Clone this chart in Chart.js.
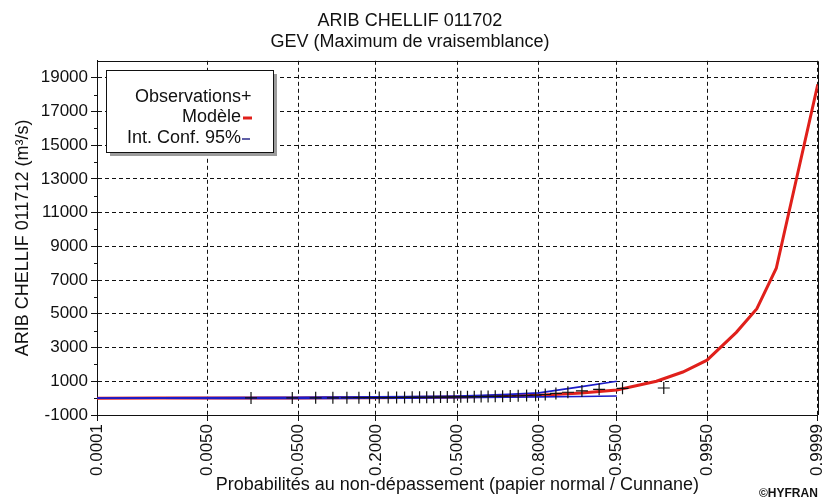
<!DOCTYPE html>
<html>
<head>
<meta charset="utf-8">
<title>ARIB CHELLIF 011702</title>
<script src="https://cdn.jsdelivr.net/npm/chart.js@4.4.0/dist/chart.umd.min.js"></script>
<style>
  html, body { margin: 0; padding: 0; background: #fff; }
  #wrap { width: 825px; height: 499px; position: relative; }
</style>
</head>
<body>
<div id="wrap"><canvas id="chart"></canvas></div>
<script>
// x axis: probabilities of non-exceedance on normal paper
const xTickProbs = [0.0001, 0.005, 0.05, 0.2, 0.5, 0.8, 0.95, 0.995, 0.9999];
const xTickLabels = ['0.0001', '0.0050', '0.0500', '0.2000', '0.5000', '0.8000', '0.9500', '0.9950', '0.9999'];
const yTicks = [-1000, 1000, 3000, 5000, 7000, 9000, 11000, 13000, 15000, 17000, 19000];
const yMinorTicks = [0, 2000, 4000, 6000, 8000, 10000, 12000, 14000, 16000, 18000];

// observations (Cunnane plotting positions, n = 36)
const obsProbs = [
  0.0166, 0.0442, 0.0718, 0.0994, 0.1271, 0.1547, 0.1823, 0.2099, 0.2376,
  0.2652, 0.2928, 0.3204, 0.3481, 0.3757, 0.4033, 0.4309, 0.4586, 0.4862,
  0.5138, 0.5414, 0.5691, 0.5967, 0.6243, 0.6519, 0.6796, 0.7072, 0.7348,
  0.7624, 0.7901, 0.8177, 0.8453, 0.8729, 0.9006, 0.9282, 0.9558, 0.9834
];
const obsValues = [
  10, 15, 18, 20, 22, 25, 28, 32, 35,
  38, 41, 45, 49, 52, 56, 60, 65, 70,
  75, 80, 86, 93, 100, 108, 117, 127, 140,
  155, 175, 215, 280, 350, 430, 520, 580, 600
];

// fitted GEV quantiles
const modelProbs = [0.0001, 0.001, 0.01, 0.05, 0.1, 0.2, 0.3, 0.4, 0.5, 0.6, 0.7, 0.8, 0.9, 0.95, 0.98, 0.99, 0.995, 0.998, 0.999, 0.9995, 0.9999];
const modelValues = [0, 2, 5, 12, 18, 30, 42, 56, 72, 95, 125, 175, 300, 480, 1000, 1550, 2250, 3900, 5300, 7700, 18600];

// 95% confidence interval
const confProbs = [0.0001, 0.001, 0.01, 0.05, 0.1, 0.2, 0.3, 0.4, 0.5, 0.6, 0.7, 0.8, 0.9, 0.95];
const confUpper = [10, 15, 30, 50, 60, 75, 90, 110, 130, 165, 220, 310, 680, 1000];
const confLower = [-10, -10, -20, -25, -20, -10, 0, 10, 25, 40, 55, 75, 100, 130];

const legendLabels = ['Observations', 'Modèle', 'Int. Conf. 95%'];

const FONT = "'Liberation Sans', Arial, sans-serif";
const INK = '#111';

// inverse of the standard normal CDF (Acklam)
function normInv(p) {
  const a = [-3.969683028665376e+01, 2.209460984245205e+02, -2.759285104469687e+02, 1.383577518672690e+02, -3.066479806614716e+01, 2.506628277459239e+00];
  const b = [-5.447609879822406e+01, 1.615858368580409e+02, -1.556989798598866e+02, 6.680131188771972e+01, -1.328068155288572e+01];
  const c = [-7.784894002430293e-03, -3.223964580411365e-01, -2.400758277161838e+00, -2.549732539343734e+00, 4.374664141464968e+00, 2.938163982698783e+00];
  const d = [7.784695709041462e-03, 3.224671290700398e-01, 2.445134137142996e+00, 3.754408661907416e+00];
  const pLow = 0.02425;
  let q, r;
  if (p < pLow) {
    q = Math.sqrt(-2 * Math.log(p));
    return (((((c[0] * q + c[1]) * q + c[2]) * q + c[3]) * q + c[4]) * q + c[5]) /
      ((((d[0] * q + d[1]) * q + d[2]) * q + d[3]) * q + 1);
  }
  if (p <= 1 - pLow) {
    q = p - 0.5;
    r = q * q;
    return (((((a[0] * r + a[1]) * r + a[2]) * r + a[3]) * r + a[4]) * r + a[5]) * q /
      (((((b[0] * r + b[1]) * r + b[2]) * r + b[3]) * r + b[4]) * r + 1);
  }
  q = Math.sqrt(-2 * Math.log(1 - p));
  return -(((((c[0] * q + c[1]) * q + c[2]) * q + c[3]) * q + c[4]) * q + c[5]) /
    ((((d[0] * q + d[1]) * q + d[2]) * q + d[3]) * q + 1);
}

const toPoints = (probs, values) => probs.map((p, i) => ({ x: normInv(p), y: values[i] }));

// frame, minor ticks, boxed legend and credit
const hyfranExtras = {
  id: 'hyfranExtras',
  afterDraw(chart) {
    const { ctx, chartArea: a, scales: { y } } = chart;
    ctx.save();
    ctx.strokeStyle = INK;
    ctx.lineWidth = 1;
    ctx.beginPath();
    ctx.moveTo(a.left, Math.round(a.top) + 0.5);
    ctx.lineTo(Math.round(a.right) + 0.5, Math.round(a.top) + 0.5);
    ctx.lineTo(Math.round(a.right) + 0.5, a.bottom);
    yMinorTicks.forEach(v => {
      const py = Math.round(y.getPixelForValue(v)) + 0.5;
      ctx.moveTo(a.left - 3, py);
      ctx.lineTo(a.left, py);
    });
    ctx.stroke();

    // legend box
    const lx = Math.round(a.left) + 9, ly = Math.round(a.top) + 9, lw = 167, lh = 82;
    ctx.fillStyle = '#9c9c9c';
    ctx.fillRect(lx + 4, ly + 4, lw, lh);
    ctx.fillStyle = '#fff';
    ctx.fillRect(lx, ly, lw, lh);
    ctx.strokeRect(lx + 0.5, ly + 0.5, lw, lh);

    ctx.font = '18px ' + FONT;
    ctx.fillStyle = INK;
    ctx.textAlign = 'right';
    ctx.textBaseline = 'middle';
    const tx = lx + 135;
    const rows = [ly + 27, ly + 47, ly + 68];
    legendLabels.forEach((t, i) => ctx.fillText(t, tx, rows[i]));
    // symbols
    ctx.textAlign = 'left';
    ctx.fillText('+', tx, rows[0]);
    ctx.strokeStyle = '#e0201b';
    ctx.lineWidth = 3;
    ctx.beginPath();
    ctx.moveTo(tx + 2, rows[1] + 1);
    ctx.lineTo(tx + 11, rows[1] + 1);
    ctx.stroke();
    ctx.strokeStyle = '#2a2a8a';
    ctx.lineWidth = 1.5;
    ctx.beginPath();
    ctx.moveTo(tx + 1, rows[2] + 1);
    ctx.lineTo(tx + 9, rows[2] + 1);
    ctx.stroke();

    // credit
    ctx.font = 'bold 12px ' + FONT;
    ctx.fillStyle = INK;
    ctx.textAlign = 'left';
    ctx.textBaseline = 'alphabetic';
    ctx.fillText('©HYFRAN', 759, 497);
    ctx.restore();
  }
};

const tickFont = { family: FONT, size: 17 };
const titleFont = { family: FONT, size: 18, weight: 'normal' };

new Chart(document.getElementById('chart'), {
  type: 'scatter',
  data: {
    datasets: [
      {
        label: 'Observations',
        data: toPoints(obsProbs, obsValues),
        pointStyle: 'cross',
        pointRadius: 6,
        borderColor: INK,
        borderWidth: 1.2,
        order: 0
      },
      {
        label: 'Int. Conf. 95% (sup.)',
        data: toPoints(confProbs, confUpper),
        showLine: true,
        borderColor: '#1c1cc8',
        borderWidth: 1.6,
        pointRadius: 0,
        order: 1
      },
      {
        label: 'Int. Conf. 95% (inf.)',
        data: toPoints(confProbs, confLower),
        showLine: true,
        borderColor: '#1c1cc8',
        borderWidth: 1.6,
        pointRadius: 0,
        order: 1
      },
      {
        label: 'Modèle',
        data: toPoints(modelProbs, modelValues),
        showLine: true,
        borderColor: '#e0201b',
        borderWidth: 3,
        pointRadius: 0,
        order: 2
      }
    ]
  },
  options: {
    responsive: true,
    maintainAspectRatio: false,
    animation: false,
    layout: { padding: { top: 0, right: 5, bottom: 0, left: 0 } },
    plugins: {
      legend: { display: false },
      tooltip: { enabled: false },
      title: {
        display: true,
        text: ['ARIB CHELLIF 011702', 'GEV (Maximum de vraisemblance)'],
        color: INK,
        font: titleFont,
        padding: { top: 10, bottom: 7.6 }
      }
    },
    scales: {
      x: {
        type: 'linear',
        min: normInv(xTickProbs[0]),
        max: normInv(xTickProbs[xTickProbs.length - 1]),
        afterBuildTicks: (scale) => {
          scale.ticks = xTickProbs.map(p => ({ value: normInv(p) }));
        },
        afterFit: (scale) => {
          scale.height = 84;
          scale.paddingLeft = 0;
          scale.paddingRight = 0;
        },
        ticks: {
          autoSkip: false,
          minRotation: 90,
          maxRotation: 90,
          padding: 3,
          color: INK,
          font: tickFont,
          callback: (value, index) => xTickLabels[index]
        },
        grid: { color: INK, tickColor: INK, tickLength: 6, lineWidth: 1 },
        border: { color: INK, dash: [4, 3] },
        title: {
          display: true,
          text: 'Probabilités au non-dépassement (papier normal / Cunnane)',
          color: INK,
          font: titleFont,
          padding: { top: 0, bottom: 3 }
        }
      },
      y: {
        min: -1000,
        max: 20000,
        afterBuildTicks: (scale) => {
          scale.ticks = yTicks.map(v => ({ value: v }));
        },
        afterFit: (scale) => {
          scale.width = 97;
          scale.paddingTop = 0;
          scale.paddingBottom = 0;
        },
        ticks: {
          padding: 3,
          color: INK,
          font: tickFont,
          callback: (value) => String(value)
        },
        grid: { color: INK, tickColor: INK, tickLength: 6, lineWidth: 1 },
        border: { color: INK, dash: [4, 3] },
        title: {
          display: true,
          text: 'ARIB CHELLIF 011712 (m³/s)',
          color: INK,
          font: titleFont,
          padding: { top: 12, bottom: 0 }
        }
      }
    }
  },
  plugins: [hyfranExtras]
});
</script>
</body>
</html>
